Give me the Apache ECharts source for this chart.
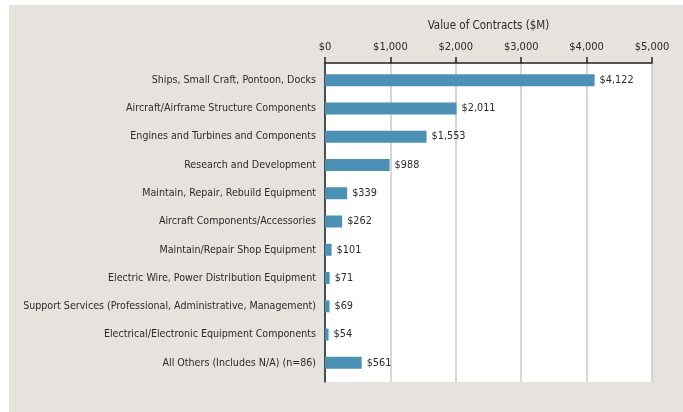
<!DOCTYPE html>
<html>
<head>
<meta charset="utf-8">
<script src="https://cdn.jsdelivr.net/npm/echarts@6/dist/echarts.min.js"></script>
<style>
html,body{margin:0;padding:0;background:#fff;}
#c{width:683px;height:412px;}
</style>
</head>
<body>
<div id="c"></div>
<script>
const categories = [
  "Ships, Small Craft, Pontoon, Docks",
  "Aircraft/Airframe Structure Components",
  "Engines and Turbines and Components",
  "Research and Development",
  "Maintain, Repair, Rebuild Equipment",
  "Aircraft Components/Accessories",
  "Maintain/Repair Shop Equipment",
  "Electric Wire, Power Distribution Equipment",
  "Support Services (Professional, Administrative, Management)",
  "Electrical/Electronic Equipment Components",
  "All Others (Includes N/A) (n=86)"
];
const values = [4122, 2011, 1553, 988, 339, 262, 101, 71, 69, 54, 561];
const axisTitle = "Value of Contracts ($M)";
const axisMin = 0, axisMax = 5000, axisStep = 1000;

const FONT = "'Liberation Sans Narrow', 'DejaVu Sans Condensed', sans-serif";
const TXT = '#2b2b2b';
const money = v => '$' + Number(v).toLocaleString('en-US');

const chart = echarts.init(document.getElementById('c'), null, {renderer: 'canvas'});
chart.setOption({
  animation: false,
  backgroundColor: '#fff',
  graphic: [{
    type: 'rect', z: -10, silent: true,
    shape: {x: 9, y: 5, width: 674, height: 407},
    style: {fill: '#e6e2dd'}
  }],
  grid: [
    {left: 325, right: 31, top: 63, bottom: 30, show: true, backgroundColor: '#fff', borderWidth: 0, z: -1,
     containLabel: false, outerBoundsMode: 'none'},
    {left: 325, right: 31, top: 66, bottom: 35, containLabel: false, outerBoundsMode: 'none'}
  ],
  xAxis: [
    {
      gridIndex: 0, type: 'value', position: 'top',
      min: axisMin, max: axisMax, interval: axisStep,
      name: axisTitle, nameLocation: 'middle', nameGap: 31,
      nameTextStyle: {fontFamily: FONT, fontSize: 11.5, color: TXT},
      axisLine: {show: true, onZero: false, lineStyle: {color: '#222', width: 1.5}},
      axisTick: {show: true, inside: false, length: 6, lineStyle: {color: '#222', width: 1.5}},
      axisLabel: {formatter: money, fontFamily: FONT, fontSize: 11, color: TXT, margin: 10},
      splitLine: {show: true, lineStyle: {color: '#c8c8c8', width: 1.5}}
    },
    {
      gridIndex: 1, type: 'value', min: axisMin, max: axisMax, show: false
    }
  ],
  yAxis: [
    {
      gridIndex: 0, type: 'value', min: 0, max: 1,
      axisLine: {show: true, onZero: false, lineStyle: {color: '#222', width: 1.5}},
      axisTick: {show: false}, axisLabel: {show: false}, splitLine: {show: false}
    },
    {
      gridIndex: 1, type: 'category', data: categories, inverse: true,
      axisLine: {show: false}, axisTick: {show: false}, splitLine: {show: false},
      axisLabel: {fontFamily: FONT, fontSize: 10.6, color: TXT, margin: 9}
    }
  ],
  series: [{
    type: 'bar', xAxisIndex: 1, yAxisIndex: 1,
    data: values, barWidth: 12,
    itemStyle: {color: '#4b91b6'},
    label: {show: true, position: 'right', distance: 5, formatter: p => money(p.value),
      fontFamily: FONT, fontSize: 10.8, color: TXT}
  }]
});
</script>
</body>
</html>
